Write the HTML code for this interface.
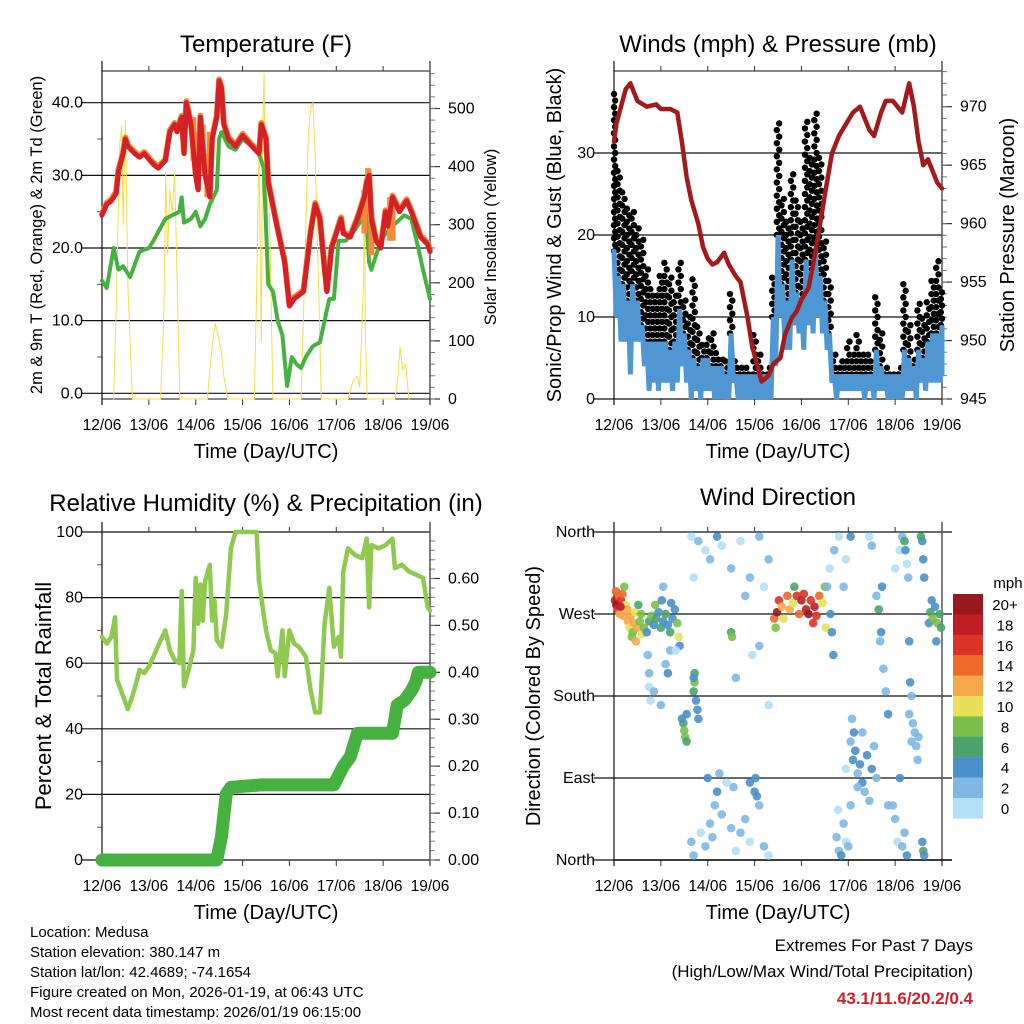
<!DOCTYPE html>
<html><head><meta charset="utf-8"><style>
body{margin:0;background:#fff}
svg{display:block;font-family:"Liberation Sans",sans-serif}
</style></head><body>
<svg id="fig" width="1024" height="1024" viewBox="0 0 1024 1024" xmlns="http://www.w3.org/2000/svg">
<g id="g-temp"></g>
<g id="g-wind"></g>
<g id="g-rh"></g>
<g id="g-dir"></g>
<g font-size="15" fill="#000">
<text x="30" y="937">Location: Medusa</text>
<text x="30" y="957">Station elevation: 380.147 m</text>
<text x="30" y="977">Station lat/lon: 42.4689; -74.1654</text>
<text x="30" y="997">Figure created on Mon, 2026-01-19, at 06:43 UTC</text>
<text x="30" y="1017">Most recent data timestamp: 2026/01/19 06:15:00</text>
</g>
<g text-anchor="end">
<text x="973" y="951" font-size="17">Extremes For Past 7 Days</text>
<text x="973" y="977" font-size="17">(High/Low/Max Wind/Total Precipitation)</text>
<text x="973" y="1004" font-size="17" font-weight="bold" fill="#cc2229">43.1/11.6/20.2/0.4</text>
</g>
</svg>
<script>
// ---------- data ----------
const dayLabels = ["12/06","13/06","14/06","15/06","16/06","17/06","18/06","19/06"];
const tempRedT = [0,0.1,0.2,0.3,0.35,0.45,0.5,0.55,0.7,0.8,0.9,1.1,1.2,1.35,1.45,1.55,1.6,1.7,1.75,1.8,1.9,2.0,2.05,2.1,2.2,2.3,2.35,2.45,2.5,2.55,2.6,2.7,2.85,3.0,3.2,3.35,3.4,3.5,3.55,3.7,3.9,4.0,4.1,4.3,4.45,4.55,4.65,4.75,4.8,4.9,5.0,5.1,5.15,5.3,5.45,5.6,5.65,5.7,5.75,5.85,5.95,6.05,6.1,6.2,6.35,6.5,6.6,6.8,6.95,7.0];
const tempRedV = [24.5,26,26.5,27.5,30.5,33,35,34,33,32.5,33,31.5,31,32,36,37,36,38,33,40,37,30,28,38,30,27,35,38,43,42,37,35,34,35.5,34,33,37,35,29,24,18,12,13,14,22,26,24,17,14,20,22,24,22,21.5,24,27,29,30,24,21,20,25,23,27,25,26.5,25,21.5,20.5,19.5];
const tempOrT = [1.95,2.05,2.15,2.25,2.3,5.6,5.68,5.75,6.15,6.2];
const tempOrV = [38,36,37,33,36,28,31,25,27,27];
const dewT = [0,0.1,0.25,0.35,0.45,0.6,0.8,1.0,1.1,1.35,1.5,1.65,1.7,1.75,1.9,2.0,2.1,2.2,2.3,2.45,2.5,2.55,2.7,2.85,3.0,3.2,3.35,3.45,3.55,3.65,3.75,3.85,3.95,4.05,4.15,4.25,4.35,4.5,4.65,4.75,4.85,4.95,5.05,5.2,5.4,5.55,5.62,5.7,5.75,5.85,5.95,6.05,6.2,6.45,6.6,6.75,6.85,7.0];
const dewV = [15.5,14.5,20,17,17.5,16,19.5,20,21,24,24.5,25,27,23.5,24,25,23,24,26,28,35,36,34,33.5,35,34,33,31,15,14,10,8,1,5,4,3.5,5,6.5,7,10,13,13,21,21,22.5,24,26,18,17,19,21,22,23,24.5,24,20,17,13];
const solarT = [0.25,0.3,0.38,0.42,0.45,0.5,0.55,0.6,0.65, 1.25,1.32,1.36,1.4,1.45,1.5,1.55,1.62,1.66, 2.25,2.3,2.38,2.42,2.5,2.55,2.6,2.68, 3.25,3.3,3.35,3.4,3.43,3.46,3.5,3.55,3.6,3.65, 4.25,4.32,4.4,4.45,4.5,4.55,4.62,4.68, 5.25,5.35,5.45,5.5,5.58,5.6,5.62,5.66, 6.25,6.32,6.36,6.42,6.48,6.55];
const solarV = [0,150,440,470,300,480,200,100,0, 0,150,390,250,360,320,390,150,0, 0,50,110,130,100,80,40,0, 0,180,440,100,460,560,200,420,200,0, 0,200,450,500,510,420,200,0, 0,30,40,20,200,360,120,0, 0,40,90,50,60,0];
const windT = [0,0.1,0.2,0.3,0.4,0.5,0.6,0.7,0.8,0.9,1.0,1.1,1.2,1.3,1.4,1.5,1.6,1.7,1.8,1.9,2.0,2.1,2.2,2.3,2.4,2.5,2.6,2.7,2.8,2.9,3.0,3.1,3.2,3.3,3.4,3.5,3.6,3.7,3.8,3.9,4.0,4.1,4.2,4.3,4.4,4.5,4.6,4.7,4.8,4.9,5.0,5.1,5.2,5.3,5.4,5.5,5.6,5.7,5.8,5.9,6.0,6.1,6.2,6.3,6.4,6.5,6.6,6.7,6.8,6.9,7.0];
const windHi = [18,15,14,12,14,12,9,7,7,7,7,7,6,7,11,8,6,5,4,5,5,4,4,4,3,8,3,3,3,3,3,3,3,3,10,20,14,12,17,13,12,17,15,18,15,12,8,3,3,3,3,3,3,3,3,3,6,4,3,3,3,3,6,5,4,6,5,7,8,8,9];
const windLo = [10,7,7,3,7,7,4,1,2,1,2,2,1,2,4,2,0,1,0,1,1,0,0,0,0,2,0,0,0,0,0,0,0,0,4,10,6,6,9,8,6,9,8,10,8,6,2,0,1,1,1,1,1,0,1,0,1,1,0,0,0,0,1,1,0,2,1,2,2,2,3];
const gustHi = [38,28,26,24,23,21,20,16,14,13,15,17,15,13,17,12,10,15,9,7,8,8,6,5,5,13,5,4,4,3,8,6,3,4,15,34,25,22,28,25,22,34,30,35,30,20,15,6,4,5,7,6,8,6,6,5,13,8,4,3,3,4,14,9,5,12,10,12,15,17,13];
const presT = [0,0.05,0.15,0.25,0.35,0.4,0.5,0.7,0.9,1.0,1.2,1.35,1.45,1.55,1.65,1.8,1.9,2.0,2.1,2.2,2.35,2.45,2.6,2.7,2.85,2.95,3.05,3.15,3.3,3.4,3.55,3.65,3.8,3.9,4.0,4.15,4.25,4.4,4.5,4.65,4.8,4.95,5.1,5.25,5.35,5.45,5.55,5.7,5.8,5.95,6.05,6.15,6.3,6.4,6.5,6.6,6.7,6.8,6.9,7.0];
const presV = [967,968.5,970,971.5,972,971.5,970.5,970,970.2,969.8,969.8,969.5,967,964,962,960,958,957,956.5,956.7,957.5,956.5,955.5,955,952,949.5,948,946.5,947,948,948.5,950.5,952,952.5,953.5,954.5,956.5,960,962.5,966,967.5,968.5,969.5,970,969,968,967.5,969.5,970.5,970.5,970,969.5,972,970,967,965,965.5,964.5,963.5,963];
const rhT = [0,0.1,0.2,0.28,0.32,0.4,0.55,0.65,0.75,0.8,0.9,1.0,1.1,1.25,1.35,1.45,1.55,1.65,1.7,1.75,1.85,1.95,2.0,2.05,2.1,2.15,2.2,2.3,2.35,2.4,2.45,2.55,2.65,2.75,2.85,3.0,3.3,3.35,3.5,3.6,3.7,3.75,3.85,3.9,4.0,4.1,4.2,4.35,4.45,4.55,4.65,4.75,4.85,4.95,5.05,5.1,5.15,5.25,5.4,5.55,5.65,5.7,5.75,5.9,6.05,6.2,6.25,6.4,6.55,6.7,6.85,6.95,7.0];
const rhV = [68,66,68,74,55,52,46,50,55,58,57,59,62,67,70,64,61,60,82,53,58,64,86,72,84,73,85,90,73,79,67,65,75,95,100,100,100,85,70,64,63,56,70,56,70,66,65,62,52,45,45,72,83,65,68,62,88,95,93,92,98,77,96,95,96,98,89,90,88,87,86,77,76];
const precipT = [0,2.45,2.55,2.65,2.75,3.4,4.95,5.05,5.15,5.3,5.45,6.2,6.3,6.45,6.6,6.7,6.75,7.0];
const precipV = [0,0,0.05,0.14,0.155,0.16,0.16,0.18,0.2,0.22,0.27,0.27,0.33,0.34,0.36,0.38,0.40,0.40];
// wind direction obs: [day, degrees, mph]
const dirObs = [
[0.02,285,18],[0.05,280,20],[0.08,275,16],[0.1,290,14],[0.12,270,12],[0.15,285,16],[0.18,292,14],[0.2,268,12],[0.22,300,8],[0.25,280,10],[0.28,275,12],[0.04,295,14],[0.14,278,18],
[0.3,262,12],[0.33,255,10],[0.36,268,12],[0.4,250,8],[0.42,260,12],[0.45,272,10],[0.5,255,12],[0.55,262,8],[0.6,248,10],[0.38,245,8],[0.47,240,12],[0.58,270,8],[0.52,280,6],[0.64,255,8],
[0.7,250,4],[0.75,262,6],[0.8,268,8],[0.85,258,4],[0.9,265,6],[0.95,272,4],[1.0,255,6],[1.05,262,4],[1.1,270,6],[1.15,258,4],[1.2,250,6],[1.25,265,4],[1.3,275,4],[1.35,260,8],[1.38,245,10],[1.4,235,4],[0.88,280,8],[1.02,285,4],[1.22,282,4],
[0.72,225,2],[0.75,205,2],[0.75,190,0],[0.85,185,2],[1.1,215,2],[1.15,205,4],[1.2,230,2],[1.0,170,2],[0.78,175,0],[1.32,230,0],[1.05,300,2],
[1.48,150,6],[1.5,142,8],[1.52,135,8],[1.55,160,4],[1.45,155,4],[1.55,130,6],[1.7,185,6],[1.72,195,8],[1.75,175,4],[1.78,165,4],[1.8,155,4],[1.72,205,6],[1.7,200,4],
[1.65,20,2],[1.7,5,2],[1.85,30,0],[1.95,15,2],[2.05,40,2],[2.1,25,2],[2.15,60,2],[2.2,75,4],[2.3,50,2],[2.4,85,0],[2.5,35,2],[2.6,10,0],[2.7,30,2],[2.8,45,2],[2.9,20,0],[3.0,75,4],[3.02,90,4],[3.1,60,2],[3.2,15,2],[3.3,5,0],[2.0,90,4],[2.25,95,2],[2.55,80,2],[2.9,85,4],[3.05,70,4],
[1.65,355,0],[1.8,350,2],[1.95,340,0],[2.05,330,2],[2.2,355,4],[2.3,345,0],[2.5,320,2],[2.7,350,0],[2.9,310,2],[3.1,355,2],[3.2,300,0],[3.3,330,2],[1.7,310,0],[2.8,290,2],[2.95,225,0],[2.6,200,2],[3.1,235,2],[3.3,170,0],[2.5,250,6],[2.52,245,8],
[3.42,265,14],[3.48,272,20],[3.52,285,16],[3.58,278,12],[3.62,265,10],[3.7,290,14],[3.75,275,12],[3.82,282,10],[3.9,290,16],[3.95,270,14],[4.0,285,18],[4.05,292,16],[4.1,275,18],[4.15,270,20],[4.2,285,16],[4.28,278,18],[4.32,268,16],[4.38,290,14],[4.45,282,10],[4.5,300,8],[4.52,255,10],[3.45,255,8],[3.85,300,6],[4.25,260,16],
[4.55,300,2],[4.6,320,0],[4.7,340,2],[4.8,355,0],[4.65,250,4],[4.62,270,4],[4.68,225,4],
[4.75,25,2],[4.8,10,2],[4.85,5,4],[4.9,40,2],[4.95,20,0],[5.0,15,2],[5.05,60,2],[4.78,55,0],[4.9,300,2],[4.95,330,0],[5.05,355,4],
[4.95,100,0],[5.05,130,2],[5.08,155,2],[5.1,110,4],[5.15,120,4],[5.2,95,2],[5.25,105,4],[5.3,85,4],[5.3,140,2],[5.35,75,2],[5.4,115,4],[5.45,65,2],[5.5,100,4],[5.55,125,2],[5.6,90,2],[5.2,80,2],[5.12,140,4],
[5.45,355,0],[5.5,345,2],[5.6,290,2],[5.65,275,6],[5.7,250,4],[5.72,300,4],[5.68,240,2],[5.75,210,2],[5.8,185,2],[5.85,160,4],[5.85,60,2],
[6.0,320,0],[6.1,340,0],[6.15,355,2],[6.2,350,6],[6.22,340,4],[6.25,325,0],[6.28,310,2],[6.3,240,4],[6.32,195,4],[6.35,180,2],[6.38,150,2],[6.42,140,2],[6.45,125,2],[6.48,110,2],[6.5,135,2],[6.3,160,2],[6.35,130,2],
[6.58,350,4],[6.6,330,4],[6.62,310,4],[6.58,20,4],[6.6,10,6],[6.62,5,4],[6.55,355,6],
[6.72,260,4],[6.75,272,6],[6.8,265,8],[6.85,278,4],[6.9,260,8],[6.95,270,6],[6.98,255,6],[6.88,240,4],[6.78,285,4],
[6.2,30,2],[6.0,45,2],[6.05,20,0],[6.15,15,2],[6.25,5,4],[5.95,60,2],[6.1,90,4]
];
const legendLabels = ["20+","18","16","14","12","10","8","6","4","2","0"];
const legendColors = ["#961a1d","#bf1e24","#dc3329","#ee6a2b","#f5a94a","#e8e05a","#7bbf4a","#4aa36f","#4a90c8","#7fb8e2","#b3e0f7"];

// ---------- helpers ----------
const NS="http://www.w3.org/2000/svg";
function mk(parent,tag,attrs,text){const e=document.createElementNS(NS,tag);for(const k in attrs)e.setAttribute(k,attrs[k]);if(text!==undefined)e.textContent=text;parent.appendChild(e);return e;}
function xs(x0,x1){return t=>x0+(x1-x0)*t/7;}
function ys(y0,y1,v0,v1){return v=>y0+(y1-y0)*(v-v0)/(v1-v0);}

function frame(g,L,R,T,B,opt){
  opt.leftTicks.forEach(v=>{
    const y=opt.ly(v);
    const gl=mk(g,'line',{x1:L-20,x2:R+(opt.gridExt||0),y1:y,y2:y,stroke:'#111','stroke-width':1.2});
    
    
    const tl=mk(g,'text',{x:L-19,y:y+5,'text-anchor':'end','font-size':16},opt.fmtL(v));
    
    
  });
  (opt.leftMinor||[]).forEach(v=>{const y=opt.ly(v);mk(g,'line',{x1:L-5,x2:L,y1:y,y2:y,stroke:'#555'});});
  if(opt.rightTicks){opt.rightTicks.forEach(v=>{
    const y=opt.ry(v);
    mk(g,'line',{x1:R,x2:R+10,y1:y,y2:y,stroke:'#333','stroke-width':1.2});
    const tl=mk(g,'text',{x:R+18,y:y+5,'font-size':16},opt.fmtR(v));
    
    
  });
  (opt.rightMinor||[]).forEach(v=>{const y=opt.ry(v);mk(g,'line',{x1:R,x2:R+5,y1:y,y2:y,stroke:'#777'});});}
  const x=xs(L,R);
  dayLabels.forEach((d,i)=>{
    mk(g,'line',{x1:x(i),x2:x(i),y1:T-5,y2:T,stroke:'#333'});
    mk(g,'line',{x1:x(i),x2:x(i),y1:B,y2:B+6,stroke:'#333'});
    const tl=mk(g,'text',{x:x(i),y:B+31,'text-anchor':'middle','font-size':15.5},d);
    
    
  });
  mk(g,'line',{x1:L,x2:L,y1:T-10,y2:B+6,stroke:'#111','stroke-width':1.2});
  mk(g,'line',{x1:R,x2:R,y1:T-10,y2:B+6,stroke:'#555','stroke-width':1.5});
  const xt=mk(g,'text',{x:(L+R)/2,y:B+59,'text-anchor':'middle','font-size':20},'Time (Day/UTC)');
  
  
}
function poly(g,pts,attrs,name){const p=mk(g,'polyline',Object.assign({fill:'none','stroke-linejoin':'round','stroke-linecap':'round',points:pts.map(p=>p[0].toFixed(1)+','+p[1].toFixed(1)).join(' ')},attrs));return p;}
function title(g,x,y,s,name){const t=mk(g,'text',{x:x,y:y,'text-anchor':'middle','font-size':24},s);}
function vlabel(g,x,y,s,fs,name){const t=mk(g,'text',{x:0,y:0,'text-anchor':'middle','font-size':fs,transform:`translate(${x},${y}) rotate(-90)`},s);}
const range=(a,b,s)=>{const r=[];for(let v=a;v<=b+1e-9;v+=s)r.push(+v.toFixed(4));return r;};

// ---------- Temperature ----------
(function(){
  const g=document.getElementById('g-temp');
  const L=102,R=430,T=71,B=399;
  const x=xs(L,R), y=ys(393.3,102.7,0,40), ys2=ys(399,108.5,0,500);
  title(g,266,52,'Temperature (F)','temperature-title');
  mk(g,'line',{x1:L,x2:R,y1:T,y2:T,stroke:'#111'});
  frame(g,L,R,T,B,{leftTicks:[0,10,20,30,40],fmtL:v=>v.toFixed(1),ly:y,leftMinor:range(5,35,10),rightTicks:[0,100,200,300,400,500],fmtR:v=>v,ry:ys2,rightMinor:range(0,560,20)});
  mk(g,'line',{x1:L,x2:R,y1:B,y2:B,stroke:'#111'});
  poly(g,solarT.map((t,i)=>[x(t),ys2(solarV[i])]),{stroke:'#f7dc4a','stroke-width':1},'solar-line');
  poly(g,dewT.map((t,i)=>[x(t),y(dewV[i])]),{stroke:'#46b040','stroke-width':4,'stroke-dasharray':'3 1'},'dewpoint-line');
  const orPts=tempOrT.map((t,i)=>[x(t),y(tempOrV[i])]);
  for(let i=0;i<orPts.length;i+=1){const o=mk(g,'line',{x1:orPts[i][0],x2:orPts[i][0],y1:orPts[i][1],y2:y(tempOrV[i]-6),stroke:'#f58a3a','stroke-width':6});}
  poly(g,tempRedT.map((t,i)=>[x(t),y(tempRedV[i])-1.5]),{stroke:'#f58a3a','stroke-width':6},'temp-9m-line');
  poly(g,tempRedT.map((t,i)=>[x(t),y(tempRedV[i])]),{stroke:'#d42127','stroke-width':5},'temp-2m-line');
  vlabel(g,42,235,'2m & 9m T (Red, Orange) & 2m Td (Green)',16.5,'left-y-axis-title');
  vlabel(g,496,237,'Solar Insolation (Yellow)',16.5,'right-y-axis-title');
})();

// ---------- Winds & Pressure ----------
(function(){
  const g=document.getElementById('g-wind');
  const L=614,R=942,T=71,B=399;
  const x=xs(L,R), y=ys(399,153,0,30), yp=ys(399,106.7,945,970);
  title(g,778,52,'Winds (mph) & Pressure (mb)','winds-title');
  mk(g,'line',{x1:L,x2:R,y1:T,y2:T,stroke:'#111'});
  frame(g,L,R,T,B,{leftTicks:[0,10,20,30],fmtL:v=>v,ly:y,leftMinor:[],rightTicks:[945,950,955,960,965,970],fmtR:v=>v,ry:yp,rightMinor:range(945,973,1)});
  mk(g,'line',{x1:L,x2:R,y1:B,y2:B,stroke:'#111'});
  windT.forEach((t,i)=>{
    for(let v=windHi[i];v<=gustHi[i];v+=1.6){
      [-0.025,0.025].forEach((dt,k)=>{
        const vv=v+(k?0.8:0);
        if(vv>gustHi[i]) return;
        const tt=Math.min(7,Math.max(0,t+dt));
        const c=mk(g,'circle',{cx:x(tt),cy:y(vv),r:3.2,fill:'#000'});
        
        
      });
    }
  });
  const wp=[];windT.forEach((t,i)=>{wp.push([x(t),y(windHi[i])]);wp.push([x(Math.min(7,t+0.05)),y(windLo[i])]);});
  poly(g,wp,{stroke:'#4f97d3','stroke-width':5,'stroke-linejoin':'miter'},'wind-speed-line');
  poly(g,presT.map((t,i)=>[x(t),yp(presV[i])]),{stroke:'#a31a1d','stroke-width':4.5},'pressure-line');
  vlabel(g,561,235,'Sonic/Prop Wind & Gust (Blue, Black)',20,'left-y-axis-title');
  vlabel(g,1014,235,'Station Pressure (Maroon)',20,'right-y-axis-title');
})();

// ---------- RH & Precip ----------
(function(){
  const g=document.getElementById('g-rh');
  const L=102,R=430,T=532,B=860;
  const x=xs(L,R), y=ys(860,532,0,100), yp=ys(860,578.5,0,0.6);
  title(g,266,511,'Relative Humidity (%) & Precipitation (in)','humidity-title');
  frame(g,L,R,T,B,{leftTicks:[0,20,40,60,80,100],fmtL:v=>v,ly:y,leftMinor:range(10,90,20),rightTicks:[0,0.1,0.2,0.3,0.4,0.5,0.6],fmtR:v=>v.toFixed(2),ry:yp,rightMinor:range(0,0.68,0.02)});
  poly(g,rhT.map((t,i)=>[x(t),y(rhV[i])]),{stroke:'#8fc94f','stroke-width':4.5},'humidity-line');
  poly(g,precipT.map((t,i)=>[x(t),yp(precipV[i])]),{stroke:'#46b040','stroke-width':13},'precip-line');
  vlabel(g,51,696,'Percent & Total Rainfall',22,'left-y-axis-title');
})();

// ---------- Wind Direction ----------
(function(){
  const g=document.getElementById('g-dir');
  const L=614,R=942,T=532,B=860;
  const x=xs(L,R), y=ys(860,532,0,360);
  title(g,778,505,'Wind Direction','direction-title');
  frame(g,L,R,T,B,{leftTicks:[360,270,180,90,0],fmtL:v=>({360:'North',270:'West',180:'South',90:'East',0:'North'})[v],ly:y,leftMinor:[],gridExt:10});
  mk(g,'line',{x1:L,x2:R+10,y1:B,y2:B,stroke:'#111','stroke-width':1.5});
  dirObs.forEach(o=>{
    const bin=Math.min(10,Math.floor(o[2]/2));
    const c=mk(g,'circle',{cx:x(o[0]),cy:y(o[1]),r:4.3,fill:legendColors[10-bin],'fill-opacity':0.9});
    
    
  });
  const lt=mk(g,'text',{x:1008,y:588,'text-anchor':'middle','font-size':15},'mph');
  
  
  legendLabels.forEach((lab,i)=>{
    const r=mk(g,'rect',{x:953,y:594+i*20.4,width:30,height:20.6,fill:legendColors[i]});
    
    
    const t=mk(g,'text',{x:1005,y:594+i*20.4+16,'text-anchor':'middle','font-size':15},lab);
    
    
  });
  vlabel(g,540,696,'Direction (Colored By Speed)',20,'left-y-axis-title');
})();
</script>
</body></html>
